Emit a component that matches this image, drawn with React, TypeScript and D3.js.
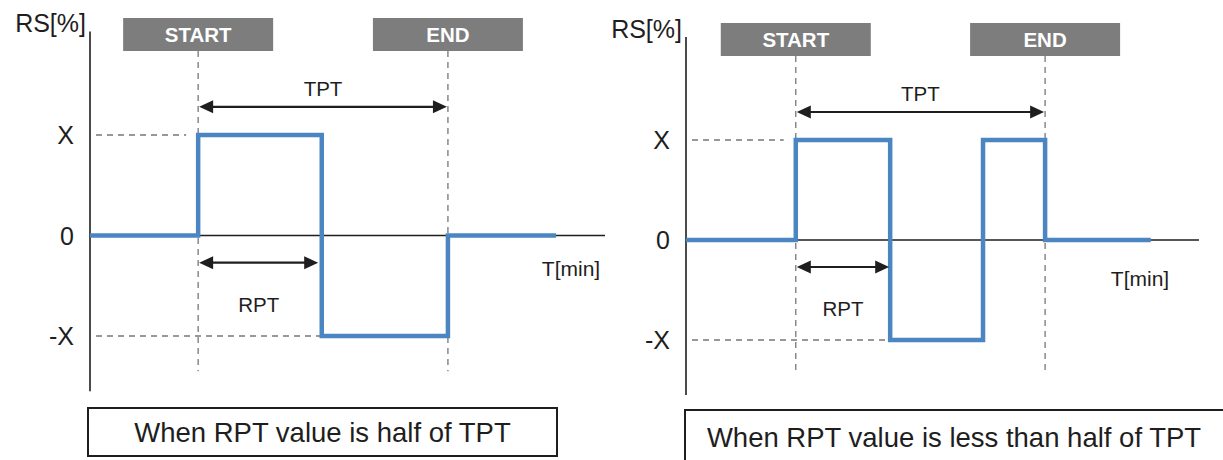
import React from "react";
import * as d3 from "d3";

// signal steps (time in arbitrary minutes, level in units of X)
const leftTimes = [0, 2.1, 4.5, 6.95, 9.05];
const leftLevels = [0, 1, -1, 0, 0];
const rightTimes = [0, 2.14, 3.98, 5.79, 7.0, 9.06];
const rightLevels = [0, 1, -1, 1, 0, 0];

// START / END marker times and the end of the RPT arrow
const leftMarkers = [2.1, 6.95];
const rightMarkers = [2.14, 7.0];
const markerLabels = ["START", "END"];
const leftRptEnd = 4.45;
const rightRptEnd = 3.98;

const yTickValues = [1, 0, -1];
const yTickLabels = ["X", "0", "-X"];
const captions = [
  "When RPT value is half of TPT",
  "When RPT value is less than half of TPT",
];

const FONT = "'Liberation Sans', Arial, sans-serif";
const BLUE = "#4c86c2";
const INK = "#1e1e1e";

// layout per panel (pixels)
const leftFrame = { axisX: 90, axisEnd: 605, yHi: 135, yLo: 336, boxTop: 18, rsY: 32, tminX: 571, tminY: 276, cap: [88, 557, 408, 456] };
const rightFrame = { axisX: 686, axisEnd: 1199, yHi: 140, yLo: 340, boxTop: 23, rsY: 38, tminX: 1140, tminY: 286, cap: [685, 1226, 410, 464] };

function Arrow({ x1, x2, y }: { x1: number; x2: number; y: number }) {
  const h = 14;
  const w = 6.5;
  return (
    <g>
      <line x1={x1 + h - 2} x2={x2 - h + 2} y1={y} y2={y} stroke={INK} strokeWidth={2.2} />
      <polygon points={`${x1},${y} ${x1 + h},${y - w} ${x1 + h},${y + w}`} fill={INK} />
      <polygon points={`${x2},${y} ${x2 - h},${y - w} ${x2 - h},${y + w}`} fill={INK} />
    </g>
  );
}

function Panel({ times, levels, markers, rptEnd, caption, f }: any) {
  const x = d3.scaleLinear().domain([0, 10]).range([f.axisX, f.axisEnd]);
  const y = d3.scaleLinear().domain([-1, 1]).range([f.yLo, f.yHi]);
  const pts: [number, number][] = times.map((t: number, i: number) => [t, levels[i]]);
  const line = d3
    .line<[number, number]>()
    .x((d) => x(d[0]))
    .y((d) => y(d[1]))
    .curve(d3.curveStepAfter);

  // where the signal is at -X first
  const negIdx = levels.indexOf(-1);
  const boxW = 150;
  const boxH = 33;
  const dashBottom = y(-1.35);
  const tptY = y(1.28);
  const rptY = y(-0.27);
  const [cx1, cx2, cy1, cy2] = f.cap;

  return (
    <g fontFamily={FONT}>
      {/* axes */}
      <line x1={f.axisX} x2={f.axisX} y1={y(2.03)} y2={y(-1.55)} stroke={INK} strokeWidth={1.6} />
      <line x1={f.axisX} x2={f.axisEnd} y1={y(0)} y2={y(0)} stroke={INK} strokeWidth={1.6} />
      <text x={f.axisX - 4} y={f.rsY} textAnchor="end" fontSize={25} fill={INK}>RS[%]</text>
      <text x={f.tminX} y={f.tminY} textAnchor="middle" fontSize={21} fill={INK}>T[min]</text>

      {yTickValues.map((v, i) => (
        <text key={i} x={f.axisX - 16} y={y(v)} dy="0.36em" textAnchor="end" fontSize={25} fill={INK}>
          {yTickLabels[i]}
        </text>
      ))}

      {/* dashed guides */}
      <g stroke="#777" strokeWidth={1.3} strokeDasharray="6 5" fill="none">
        {markers.map((m: number, i: number) => (
          <line key={i} x1={x(m)} x2={x(m)} y1={f.boxTop + boxH} y2={dashBottom} />
        ))}
        <line x1={f.axisX + 6} x2={x(markers[0]) - 12} y1={y(1)} y2={y(1)} />
        <line x1={f.axisX + 6} x2={x(times[negIdx])} y1={y(-1)} y2={y(-1)} />
      </g>

      {/* START / END tags */}
      {markers.map((m: number, i: number) => (
        <g key={i}>
          <rect x={x(m) - boxW / 2} y={f.boxTop} width={boxW} height={boxH} fill="#7d7d7d" />
          <text x={x(m)} y={f.boxTop + boxH / 2} dy="0.36em" textAnchor="middle" fontSize={20.5} fontWeight="bold" fill="#fff">
            {markerLabels[i]}
          </text>
        </g>
      ))}

      {/* signal */}
      <path d={line(pts) || ""} fill="none" stroke={BLUE} strokeWidth={4.5} strokeLinejoin="miter" />

      {/* TPT / RPT */}
      <Arrow x1={x(markers[0]) + 1} x2={x(markers[1]) - 1} y={tptY} />
      <text x={(x(markers[0]) + x(markers[1])) / 2} y={tptY - 11} textAnchor="middle" fontSize={20.5} fill={INK}>TPT</text>
      <Arrow x1={x(markers[0]) + 1} x2={x(rptEnd) - 1} y={rptY} />
      <text x={(x(markers[0]) + x(rptEnd)) / 2} y={rptY + 49} textAnchor="middle" fontSize={20.5} fill={INK}>RPT</text>

      {/* caption */}
      <rect x={cx1} y={cy1} width={cx2 - cx1} height={cy2 - cy1} fill="#fff" stroke={INK} strokeWidth={2} />
      <text x={(cx1 + Math.min(cx2, 1223)) / 2} y={(cy1 + cy2) / 2} dy="0.36em" textAnchor="middle" fontSize={27.5} fill={INK}>
        {caption}
      </text>
    </g>
  );
}

export default function App() {
  return (
    <svg width={1223} height={460} style={{ position: "absolute", left: 0, top: 0, background: "#fff" }}>
      <rect width={1223} height={460} fill="#fff" />
      <Panel times={leftTimes} levels={leftLevels} markers={leftMarkers} rptEnd={leftRptEnd} caption={captions[0]} f={leftFrame} />
      <Panel times={rightTimes} levels={rightLevels} markers={rightMarkers} rptEnd={rightRptEnd} caption={captions[1]} f={rightFrame} />
    </svg>
  );
}
